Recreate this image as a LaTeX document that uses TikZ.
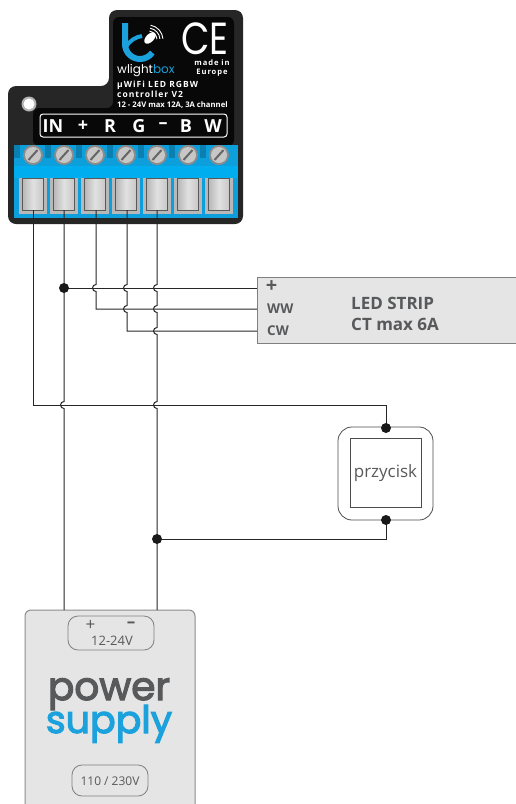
\documentclass[tikz,border=0pt]{standalone}
\usepackage{fontspec}
\setmainfont{Open Sans}
\newfontfamily\logofont{Poppins}
\newfontfamily\powerfont[FakeBold=3]{Poppins}
\newfontfamily\widefont[LetterSpace=12]{Open Sans}
\definecolor{wbblue}{HTML}{1BA1DC}
\definecolor{wbgray}{HTML}{58595B}
\definecolor{wbcyan}{HTML}{00AEEF}
\definecolor{wbterm}{HTML}{0D9FDC}
\tikzset{
  wire/.style={black!85,line width=1pt},
  junction/.style={circle,fill=black!90,inner sep=0pt,minimum size=10pt},
  pill/.style={draw=black!50,line width=0.8pt,rounded corners=10pt},
  panellabel/.style={font=\bfseries\fontsize{18}{18}\selectfont,text=white,inner sep=0pt},
  paneltext/.style={text=white,anchor=west,inner sep=0pt},
  striptext/.style={text=wbgray,anchor=west,inner sep=0pt},
  pstext/.style={text=wbgray,inner sep=0pt}
}
\newcommand{\hopv}[2]{-- (#1,#2-3.5) arc[start angle=270,end angle=90,radius=3.5]}
\begin{document}
\begin{tikzpicture}[x=1pt,y=-1pt]
\useasboundingbox (0,0) rectangle (515,804);

% device
\fill [black!85,rounded corners=8pt] (8,224) -- (8,86) -- (109,86) -- (109,10) -- (243,10) -- (243,224) -- cycle;
\fill [black!97,rounded corners=6pt] (33,146) -- (33,108) -- (113,108) -- (113,17) -- (234,17) -- (234,146) -- cycle;
\fill [black!30] (29,104) circle (7.5);
\fill [white] (29,104) circle (5.5);

\fill [wbterm] (14,145) rectangle (238,218);
\fill [wbcyan] (14,166) rectangle (238,178);

\foreach \x in {33,64,95,126,157,188,219}{
  \fill [wbterm!80!black] (\x-19,145) rectangle (\x-13,158);
  \fill [black!28] (\x-14,178) rectangle (\x+14,214);
  \draw [black!65,left color=black!28,right color=black!22,middle color=black!12] (\x-10.5,178) rectangle (\x+10.5,210);
  \fill [black!45] (\x,155) circle (10);
  \fill [black!22] (\x,155) circle (8);
  \draw [black!60,line width=2pt] (\x-4.5,160) -- (\x+4.5,150);
}

\draw [white,line width=1pt,rounded corners=3pt] (40,114) rectangle (227,137);
\foreach \x/\t in {53/IN,83/+,110/R,139/G,163/--,186/B,213/W}
  \node [panellabel] at (\x,126) {\t};

% logo
\draw [wbblue,line width=6pt] (125,23) -- (125,44) arc[start angle=180,end angle=35,radius=15];
\draw [wbblue,line width=4pt] (126,47) .. controls (130,40) and (136,37) .. (142,36);
\fill [white,rotate around={45:(150,38)}] (150,38) ellipse (7 and 4);
\foreach \r in {9,12,15}
  \draw [white,line width=0.9pt] (148,40) ++(-80:\r) arc[start angle=-80,end angle=-5,radius=\r];
\node [font=\logofont\fontsize{12}{12}\selectfont,text=white,anchor=west,inner sep=0pt] at (117,71) {wlight\textcolor{wbblue}{box}};
\node [font=\logofont\fontsize{45}{45}\selectfont,text=white,anchor=base,inner sep=0pt] at (205,54) {\scalebox{.82}[1]{CE}};
\node [font=\widefont\bfseries\fontsize{7.6}{9}\selectfont,text=white,align=center,inner sep=0pt] at (212,68.5) {made in\\Europe};
\node [paneltext,font=\widefont\bfseries\fontsize{8.5}{8.5}\selectfont] at (117,85) {µWiFi LED RGBW};
\node [paneltext,font=\widefont\bfseries\fontsize{8.5}{8.5}\selectfont] at (117,94) {controller V2};
\node [paneltext,font=\bfseries\fontsize{7.7}{8}\selectfont] at (117,105) {12 - 24V max 12A, 3A channel};

% led strip
\node (strip) [draw=black!50,fill=black!10,line width=0.9pt,minimum width=260pt,minimum height=66pt,anchor=north west,inner sep=0pt] at (257,277) {};
\node [pstext,font=\bfseries\fontsize{20}{20}\selectfont] at (271.5,287) {+};
\node [striptext,font=\bfseries\fontsize{13.5}{13.5}\selectfont] at (267,309) {WW};
\node [striptext,font=\bfseries\fontsize{13.5}{13.5}\selectfont] at (267,331) {CW};
\node [striptext,font=\bfseries\fontsize{17}{17}\selectfont] at (351,303) {LED STRIP};
\node [striptext,font=\bfseries\fontsize{17}{17}\selectfont] at (351,324.5) {CT max 6A};

% button
\draw [black!70,fill=white,line width=0.8pt,rounded corners=14pt] (338,427) rectangle (433,520);
\node (button) [draw=black!70,line width=0.8pt,minimum width=71pt,minimum height=69pt,inner sep=0pt,text=wbgray,font=\fontsize{17}{17}\selectfont] at (385.5,473) {przycisk};

% power supply
\draw [black!45,fill=black!10,line width=1pt,rounded corners=6pt] (25,830) -- (25,610) -- (195,610) -- (195,830);
\draw [pill] (68,616) rectangle (154,650);
\draw [pill] (72,765) rectangle (148,796);
\node [pstext,font=\fontsize{17}{17}\selectfont] at (90.5,625) {+};
\node [pstext,font=\bfseries\fontsize{17}{17}\selectfont] at (131,625) {--};
\node [pstext,font=\fontsize{13}{13}\selectfont] at (112,641) {12-24V};
\node [pstext,font=\fontsize{12}{12}\selectfont] at (110,781) {110 / 230V};
\node [text=wbgray,font=\powerfont\fontsize{39}{39}\selectfont,anchor=base,inner sep=0pt] at (109,700) {power};
\node [text=wbblue,font=\powerfont\fontsize{38}{38}\selectfont,anchor=base,inner sep=0pt] at (109,733) {supply};

% wires
\coordinate (w1) at (33,210); \coordinate (w2) at (64,210); \coordinate (w3) at (96,210); \coordinate (w4) at (127,210); \coordinate (w5) at (157,210);
\coordinate (in) at (386,428); \coordinate (out) at (386,520); \coordinate (gnd) at (157,539);
\coordinate (ps1) at (64,610); \coordinate (ps2) at (157,610); \coordinate (plus) at (64,288);
\coordinate (sp) at (257,288); \coordinate (ww) at (257,309); \coordinate (cw) at (257,331);

\draw [wire] (w1) |- (386,405) -- (in);
\draw [wire] (w2) \hopv{64}{405} -- (ps1);
\draw [wire] (plus) -- (sp);
\draw [wire] (w3) \hopv{96}{288} |- (ww);
\draw [wire] (w4) \hopv{127}{288} \hopv{127}{309} |- (cw);
\draw [wire] (w5) \hopv{157}{288} \hopv{157}{309} \hopv{157}{331} \hopv{157}{405} -- (ps2);
\draw [wire] (gnd) -| (out);

\node (d1) [junction] at (plus) {};
\node (d2) [junction] at (in) {};
\node (d3) [junction] at (out) {};
\node (d4) [junction] at (gnd) {};
\end{tikzpicture}
\end{document}
